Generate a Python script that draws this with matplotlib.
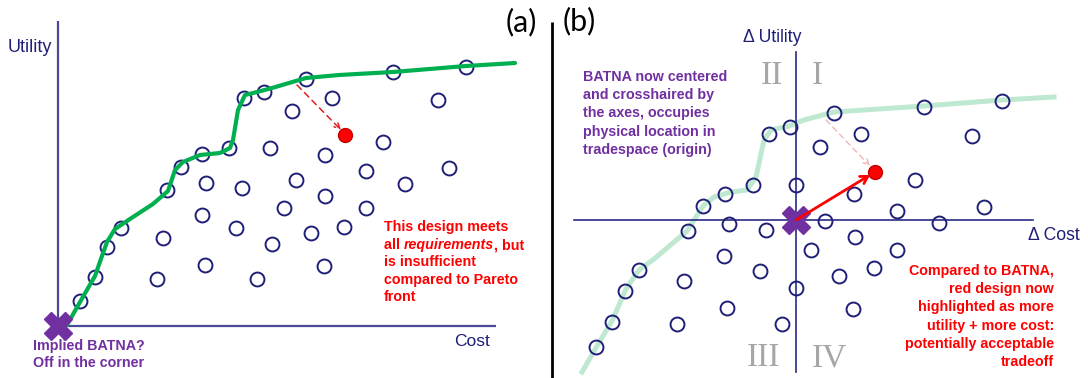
import matplotlib
matplotlib.use("Agg")
import matplotlib.pyplot as plt

plt.rcParams['font.family'] = ['Liberation Sans', 'DejaVu Sans']

# ---- panel (a): absolute tradespace, BATNA in the corner ----
a_cost = [22, 37, 49, 63, 109, 123, 144, 171, 186, 206, 248, 335, 408,
          148, 184, 212, 274, 234, 380, 325, 267, 308, 391, 238, 347,
          144, 105, 178, 147, 99, 199, 214, 267, 226, 308, 286, 253, 266]
a_util = [25, 49, 79, 98, 136, 159, 172, 178, 228, 234, 247, 254, 259,
          143, 138, 178, 228, 215, 226, 184, 171, 155, 158, 146, 142,
          111, 88, 98, 61, 47, 47, 82, 130, 118, 118, 99, 93, 60]
a_front_cost = [9, 22, 37, 44, 49, 57, 75, 95, 110, 117, 125, 142, 162, 172,
                175, 180, 187, 199, 214, 231, 248, 281, 335, 408, 457]
a_front_util = [1, 24, 50, 70, 84, 97, 109, 122, 135, 156, 164, 171, 173, 178,
                186, 216, 231, 234, 238, 243, 248, 251, 254, 260, 263]
a_red = (287, 191)
a_red_from = (239, 241)

# ---- panel (b): delta tradespace, BATNA at the origin ----
b_cost = [-200, -184, -171, -157, -108, -93, -71, -43, -27, -6, 38, 128, 206,
          0, 65, 176, 24, 119, 58, 101, 188, 29, 143, 59, 101, 15, 78, 43,
          57, 0, -14, -69, -119, -112, -36, -72, -67, -30]
b_util = [-127, -102, -71, -50, -11, 14, 26, 35, 86, 93, 107, 113, 119,
          35, 86, 84, 73, 40, 26, 9, 13, -1, -3, -17, -30, -30, -48, -56,
          -89, -68, -104, -88, -104, -61, -51, -36, -4, -10]
b_front_cost = [-214, -199, -184, -170, -157, -142, -109, -100, -93, -82, -65,
                -49, -40, -32, -25, -7, 8, 38, 128, 206, 258]
b_front_util = [-152, -126, -101, -69, -50, -39, -11, 3, 14, 23, 28,
                30, 43, 80, 90, 94, 100, 108, 114, 120, 123]
b_red = (79, 48)
b_red_from = (30, 100)

navy = '#1f1f78'
axis_a = '#4a4a98'
axis_b = '#2a2a85'
purple = '#7030a0'
red = '#ff0000'
grey = '#a6a6a6'

fig = plt.figure(figsize=(10.88, 3.78), dpi=100)

# panel (a)
ax = fig.add_axes([0, 0, 0.5, 1])
ax.set_xlim(-58, 486)
ax.set_ylim(-52, 326)
ax.axis('off')

ax.plot([0, 0], [0, 305], color=axis_a, lw=1.6, solid_capstyle='butt')
ax.plot([0, 438], [0, 0], color=axis_a, lw=1.6, solid_capstyle='butt')
ax.plot(a_cost, a_util, 'o', ms=10, mfc='none', mec=navy, mew=1.4)
ax.plot(a_front_cost, a_front_util, color='#00b050', lw=3,
        solid_joinstyle='round', solid_capstyle='round')
ax.plot(*a_red, 'o', ms=10, mfc=red, mec='#c00000', mew=1)
ax.annotate('', xy=(a_red[0] - 4, a_red[1] + 5), xytext=a_red_from,
            arrowprops=dict(arrowstyle='->', color='#e02020', lw=1.1,
                            linestyle=(0, (4, 3)), shrinkA=0, shrinkB=0))
ax.plot(0, 0, 'X', ms=20, color=purple, mec=purple)

ax.text(-28, 279, 'Utility', ha='center', va='center', fontsize=13, color=navy)
ax.text(414, -16, 'Cost', ha='center', va='center', fontsize=12.5, color=navy)
ax.text(-25, -20, 'Implied BATNA?', ha='left', va='center', fontsize=10.3,
        color=purple, fontweight='bold')
ax.text(-25, -37, 'Off in the corner', ha='left', va='center', fontsize=10.3,
        color=purple, fontweight='bold')

# red note, second line has the italic word
kw = dict(fontsize=10.3, color=red, fontweight='bold')
ax.text(326, 99, 'This design meets', ha='left', va='center', **kw)
t_all = ax.text(326, 81, 'all ', ha='left', va='center', **kw)
t_req = ax.annotate('requirements', xy=(1, 0), xycoords=t_all, ha='left',
                    va='bottom', style='italic', **kw)
ax.annotate(', but', xy=(1, 0), xycoords=(t_req, t_all), ha='left',
            va='bottom', **kw)
ax.text(326, 64, 'is insufficient', ha='left', va='center', **kw)
ax.text(326, 46, 'compared to Pareto', ha='left', va='center', **kw)
ax.text(326, 29, 'front', ha='left', va='center', **kw)

# panel (b)
bx = fig.add_axes([0.5, 0, 0.5, 1])
bx.set_xlim(-252, 292)
bx.set_ylim(-158, 220)
bx.axis('off')

bx.plot([-244, -244], [-160, 198], color='black', lw=2, clip_on=False,
        solid_capstyle='butt')
bx.plot(b_front_cost, b_front_util, color='#bfe8d0', lw=3.6,
        solid_joinstyle='round')
bx.plot([-222, 237], [0, 0], color=axis_b, lw=1.2)
bx.plot([0, 0], [-152, 168], color=axis_b, lw=1.2)
bx.plot(b_cost, b_util, 'o', ms=10, mfc='none', mec=navy, mew=1.4)
bx.annotate('', xy=(b_red[0] - 5, b_red[1] + 6), xytext=b_red_from,
            arrowprops=dict(arrowstyle='->', color='#f2b6b6', lw=1.0,
                            linestyle=(0, (4, 3)), shrinkA=0, shrinkB=0))
bx.annotate('', xy=(b_red[0] - 5, b_red[1] - 3), xytext=(0, 0),
            arrowprops=dict(arrowstyle='->,head_length=0.5,head_width=0.3',
                            color=red, lw=2, shrinkA=0, shrinkB=0))
bx.plot(*b_red, 'o', ms=10, mfc=red, mec='#c00000', mew=1)
bx.plot(0, 0, 'X', ms=20, color=purple, mec=purple)

rom = dict(fontsize=24, color=grey, family='Liberation Serif',
           ha='center', va='center')
bx.text(-24, 144, 'II', **rom)
bx.text(21, 144, 'I', **rom)
bx.text(-33, -138, 'III', **rom)
bx.text(33, -138, 'IV', **rom)

bx.text(-24, 182, '\u0394 Utility', ha='center', va='center', fontsize=12.7,
        color=navy)
bx.text(258, -15, '\u0394 Cost', ha='center', va='center', fontsize=12.7,
        color=navy)

purple_lines = ['BATNA now centered', 'and crosshaired by', 'the axes, occupies',
                'physical location in', 'tradespace (origin)']
for i, line in enumerate(purple_lines):
    bx.text(-213, 143 - 18.2 * i, line, ha='left', va='center', fontsize=10.3,
            color=purple, fontweight='bold')

red_lines = ['Compared to BATNA,', 'red design now', 'highlighted as more',
             'utility + more cost:', 'potentially acceptable', 'tradeoff']
for i, line in enumerate(red_lines):
    bx.text(258, -51 - 18.2 * i, line, ha='right', va='center', fontsize=10.3,
            color=red, fontweight='bold')

fig.text(521 / 1088, 1 - 22 / 378, '(a)', ha='center', va='center',
         fontsize=22, family='Lato')
fig.text(579 / 1088, 1 - 21 / 378, '(b)', ha='center', va='center',
         fontsize=22, family='Lato')

fig.savefig('out.png', dpi=100)
